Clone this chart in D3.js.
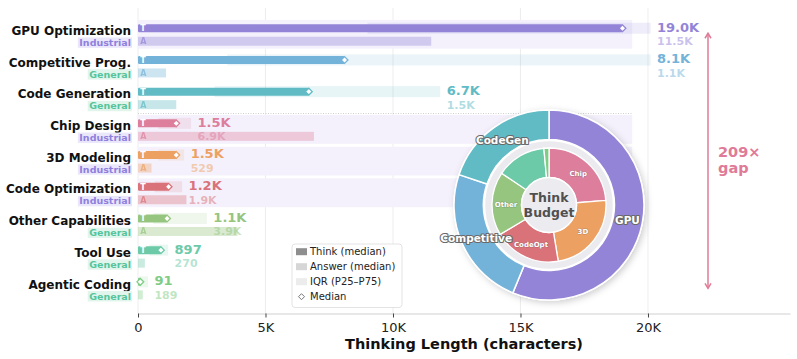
<!DOCTYPE html>
<html><head><meta charset="utf-8">
<script src="https://cdn.jsdelivr.net/npm/d3@7"></script>
<style>body{margin:0;background:#fff}svg{display:block}text{font-family:"DejaVu Sans",sans-serif}</style>
</head><body><svg id="c" width="797" height="359"></svg>
<script>
const categories = ["GPU Optimization","Competitive Prog.","Code Generation","Chip Design","3D Modeling","Code Optimization","Other Capabilities","Tool Use","Agentic Coding"];
const groups = ["Industrial","General","General","Industrial","Industrial","Industrial","General","General","General"];
const thinkMedian = [19000, 8100, 6700, 1500, 1500, 1200, 1140, 897, 91];
const answerMedian = [11500, 1100, 1500, 6900, 529, 1900, 3900, 270, 189];
const thinkP25 = [9000, 3500, 3000, 800, 800, 650, 600, 450, 40];
const thinkP75 = [20100, 20100, 11850, 2080, 1810, 1730, 2700, 1180, 390];
const shortNames = ["GPU","Competitive","CodeGen","Chip","3D","CodeOpt","Other","Tool","Agentic"];
const tickValues = [0, 5000, 10000, 15000, 20000];
const tickLabels = ["0","5K","10K","15K","20K"];
const colors = ["#9484d7","#74b3d9","#61bbc5","#dd7f9c","#eca163","#da7279","#96c57f","#6ccaa8","#7fcc84"];
const legendLabels = ["Think (median)","Answer (median)","IQR (P25–P75)","Median"];

const svg = d3.select("#c");
const x = d3.scaleLinear().domain([0, 25570]).range([138, 790]);
const y = d3.scaleBand().domain(categories).range([18.9, 304.2]);
const bw = y.bandwidth();
const cy = c => y(c) + bw / 2;
const axisY = 313.5, plotTop = 8;
const fmt = v => v >= 1000 ? (v / 1000).toFixed(1) + "K" : String(v);
const mono = '"DejaVu Sans Mono", monospace';

// gridlines
svg.append("g").selectAll("line").data(tickValues).join("line")
  .attr("x1", d => x(d)).attr("x2", d => x(d)).attr("y1", plotTop).attr("y2", axisY)
  .attr("stroke", "#e8e8e8").attr("stroke-width", 0.8);

// industrial background bands
const maxT = d3.max(thinkMedian);
svg.append("g").selectAll("rect").data(categories.filter((c, i) => groups[i] === "Industrial")).join("rect")
  .attr("x", x(0)).attr("y", d => y(d) + 1).attr("width", x(maxT * 1.02) - x(0)).attr("height", bw - 2.9)
  .attr("fill", "#f4f1fc");

// separator
svg.append("line").attr("x1", x(0)).attr("x2", x(maxT * 1.02))
  .attr("y1", y(categories[3]) - 0.5).attr("y2", y(categories[3]) - 0.5)
  .attr("stroke", "#c4c4c4").attr("stroke-dasharray", "1,1.5").attr("stroke-width", 0.8);

const rows = svg.append("g");
categories.forEach((c, i) => {
  const col = colors[i];
  const tC = cy(c) - 6.5, aC = cy(c) + 6.5;
  const g = rows.append("g");
  g.append("rect").attr("x", x(thinkP25[i])).attr("y", tC - 5.5).attr("width", x(thinkP75[i]) - x(thinkP25[i])).attr("height", 11)
    .attr("fill", col).attr("opacity", 0.15);
  g.append("rect").attr("x", x(0)).attr("y", aC - 4.5).attr("width", x(answerMedian[i]) - x(0)).attr("height", 9)
    .attr("fill", col).attr("opacity", 0.36);
  g.append("rect").attr("x", x(0)).attr("y", tC - 4).attr("width", x(thinkMedian[i]) - x(0)).attr("height", 8)
    .attr("rx", 1.2).attr("fill", col);
  const mx = x(thinkMedian[i]);
  g.append("path").attr("d", `M${mx - 3.4},${tC}L${mx},${tC - 3.4}L${mx + 3.4},${tC}L${mx},${tC + 3.4}Z`)
    .attr("fill", "#fff").attr("stroke", col).attr("stroke-width", 1.3);
  if (thinkMedian[i] >= 500)
    g.append("text").attr("x", x(0) + 2.2).attr("y", tC + 3).attr("fill", "#fff").attr("font-weight", "bold").attr("font-size", 8).text("T");
  if (answerMedian[i] >= 500)
    g.append("text").attr("x", x(0) + 2.2).attr("y", aC + 3).attr("fill", col).attr("opacity", 0.7).attr("font-weight", "bold").attr("font-size", 8).text("A");
  const lx = x(thinkP75[i]) + 6.5;
  g.append("text").attr("x", lx).attr("y", tC + 3.4).attr("fill", col).attr("font-family", mono).attr("font-weight", "bold").attr("font-size", 13).text(fmt(thinkMedian[i]));
  g.append("text").attr("x", lx).attr("y", aC + 4).attr("fill", col).attr("fill-opacity", 0.5).attr("font-family", mono).attr("font-weight", "bold").attr("font-size", 11).text(fmt(answerMedian[i]));
  // left labels
  g.append("text").attr("x", 131).attr("y", cy(c) + 0.2).attr("text-anchor", "end").attr("font-weight", "bold").attr("font-size", 12).attr("fill", "#111").text(c);
  const ind = groups[i] === "Industrial";
  const gt = g.append("text").attr("x", 131).attr("y", cy(c) + 11.2).attr("text-anchor", "end").attr("font-weight", "bold").attr("font-size", 9.5)
    .attr("fill", ind ? "#8f80dd" : "#55c49c").text(groups[i]);
  const bb = gt.node().getBBox();
  g.insert("rect", "text:last-child").attr("x", bb.x - 1.5).attr("y", cy(c) + 2.7).attr("width", bb.width + 2.5).attr("height", 10.4)
    .attr("fill", ind ? "#ebe7fb" : "#e1f5ec");
});

// axis
const ax = svg.append("g").attr("transform", `translate(0,${axisY})`)
  .call(d3.axisBottom(x).tickValues(tickValues).tickFormat((d, i) => tickLabels[i]).tickSize(4).tickSizeOuter(0));
ax.select(".domain").attr("stroke", "#d0d0d0");
ax.selectAll(".tick line").attr("stroke", "#444");
ax.selectAll(".tick text").attr("font-family", '"DejaVu Sans", sans-serif').attr("font-size", 13).attr("fill", "#222").attr("dy", "0.85em");
svg.append("text").attr("x", (x.range()[0] + x.range()[1]) / 2).attr("y", 349).attr("text-anchor", "middle")
  .attr("font-weight", "bold").attr("font-size", 14.5).attr("fill", "#111").text("Thinking Length (characters)");

// legend
const lg = svg.append("g").attr("transform", "translate(292,244)");
lg.append("rect").attr("width", 110).attr("height", 63.5).attr("rx", 3).attr("fill", "#fff").attr("stroke", "#dcdcdc").attr("stroke-width", 0.8);
const swatch = ["#8e8e8e", "#d6d6d6", "#ececec"];
legendLabels.forEach((t, i) => {
  const yy = 7.7 + i * 15;
  if (i < 3) lg.append("rect").attr("x", 4).attr("y", yy - 3.5).attr("width", 11).attr("height", 7).attr("fill", swatch[i]);
  else lg.append("path").attr("d", `M6.5,${yy}L9.5,${yy - 3}L12.5,${yy}L9.5,${yy + 3}Z`).attr("fill", "#fff").attr("stroke", "#777").attr("stroke-width", 1);
  lg.append("text").attr("x", 18).attr("y", yy + 3.6).attr("font-size", 10).attr("fill", "#222").text(t);
});

// gap annotation
const ratio = Math.round(d3.max(thinkMedian) / d3.min(thinkMedian));
const ax0 = 708, yTop = cy(categories[0]) - 1.5, yBot = cy(categories[8]);
const pink = "#e07b97";
const ann = svg.append("g").attr("stroke", pink).attr("stroke-width", 1.5).attr("fill", "none");
ann.append("line").attr("x1", ax0).attr("x2", ax0).attr("y1", yTop).attr("y2", yBot);
ann.append("path").attr("d", `M${ax0 - 3},${yTop + 5}L${ax0},${yTop}L${ax0 + 3},${yTop + 5}`);
ann.append("path").attr("d", `M${ax0 - 3},${yBot - 5}L${ax0},${yBot}L${ax0 + 3},${yBot - 5}`);
svg.append("text").attr("x", 718).attr("y", 157).attr("font-weight", "bold").attr("font-size", 14.5).attr("fill", pink).text(ratio + "×");
svg.append("text").attr("x", 718).attr("y", 172.5).attr("font-weight", "bold").attr("font-size", 14.5).attr("fill", pink).text("gap");

// donut
const defs = svg.append("defs");
const f = defs.append("filter").attr("id", "sh").attr("x", "-20%").attr("y", "-20%").attr("width", "140%").attr("height", "140%");
f.append("feDropShadow").attr("dx", 2).attr("dy", 2).attr("stdDeviation", 3.5).attr("flood-color", "#000").attr("flood-opacity", 0.2);
const dn = svg.append("g").attr("transform", "translate(549,205)");
const pie = d3.pie().sort(null).value(d => d.v);
const outerData = pie([0, 1, 2].map(i => ({ v: thinkMedian[i], i })));
const innerData = pie([3, 4, 5, 6, 7, 8].map(i => ({ v: thinkMedian[i], i })));
const outerArc = d3.arc().innerRadius(65.5).outerRadius(95);
const innerArc = d3.arc().innerRadius(27.5).outerRadius(57);
dn.append("circle").attr("r", 95.5).attr("fill", "#fff").attr("filter", "url(#sh)");
dn.selectAll("path.o").data(outerData).join("path").attr("class", "o").attr("d", outerArc)
  .attr("fill", d => colors[d.data.i]).attr("stroke", "#fff").attr("stroke-width", 1.5);
dn.append("circle").attr("r", 64.5).attr("fill", "#ebebef").attr("stroke", "#fff").attr("stroke-width", 1.5);
dn.selectAll("path.in").data(innerData).join("path").attr("class", "in").attr("d", innerArc)
  .attr("fill", d => colors[d.data.i]).attr("stroke", "#fff").attr("stroke-width", 1.3);
dn.append("circle").attr("r", 27.5).attr("fill", "#ececf0").attr("stroke", "#fff").attr("stroke-width", 1.5);
const olab = d3.arc().innerRadius(80).outerRadius(80);
dn.selectAll("text.o").data(outerData).join("text").attr("class", "o")
  .attr("transform", d => `translate(${olab.centroid(d)})`).attr("text-anchor", "middle").attr("dy", "0.36em")
  .attr("font-weight", "bold").attr("font-size", 10.5).attr("fill", "#fff").attr("stroke", "#6a6a6a").attr("stroke-width", 2.2)
  .attr("paint-order", "stroke").attr("stroke-linejoin", "round").text(d => shortNames[d.data.i]);
const ilab = d3.arc().innerRadius(43).outerRadius(43);
dn.selectAll("text.in").data(innerData.filter(d => d.data.v >= 1000)).join("text").attr("class", "in")
  .attr("transform", d => `translate(${ilab.centroid(d)})`).attr("text-anchor", "middle").attr("dy", "0.36em")
  .attr("font-weight", "bold").attr("font-size", 7).attr("fill", "#fff").attr("stroke", "rgba(90,90,90,0.35)").attr("stroke-width", 1)
  .attr("paint-order", "stroke").text(d => shortNames[d.data.i]);
dn.append("text").attr("y", -3.5).attr("text-anchor", "middle").attr("font-weight", "bold").attr("font-size", 12.5).attr("fill", "#505050").text("Think");
dn.append("text").attr("y", 12).attr("text-anchor", "middle").attr("font-weight", "bold").attr("font-size", 12.5).attr("fill", "#505050").text("Budget");
</script></body></html>
